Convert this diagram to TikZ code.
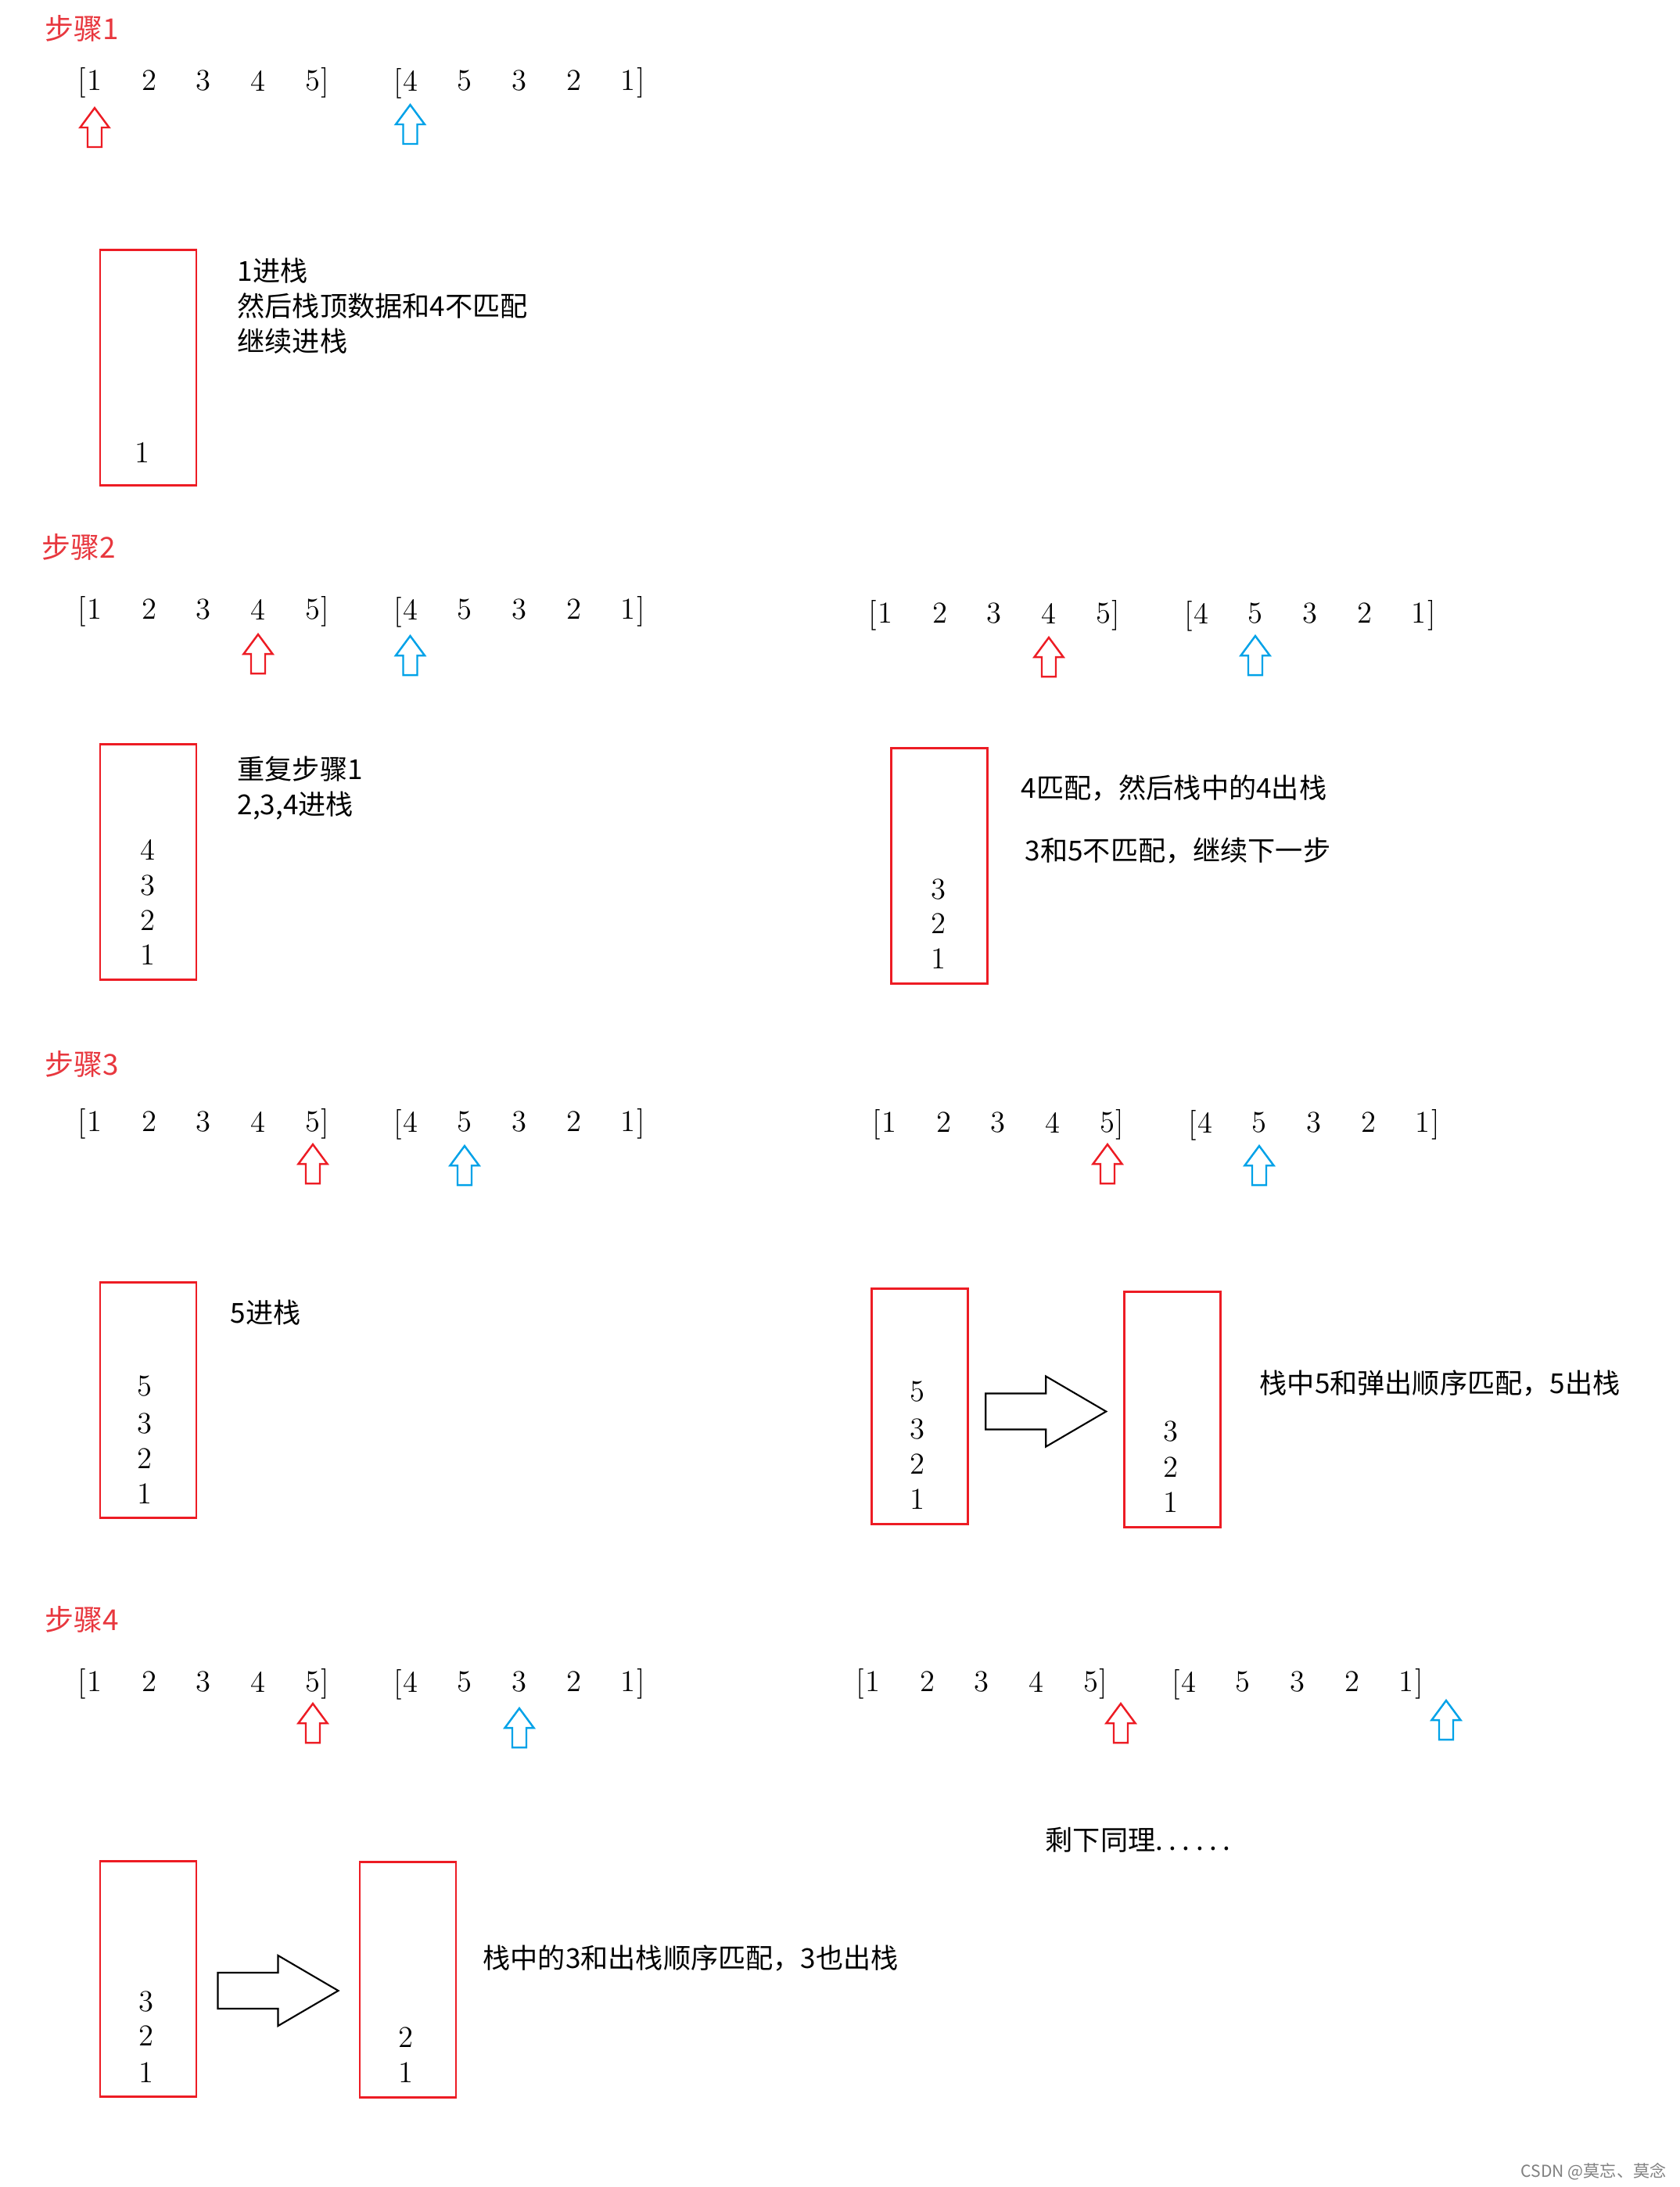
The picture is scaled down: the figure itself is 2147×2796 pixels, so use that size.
\documentclass[tikz,border=0pt]{standalone}
\usepackage{fontspec}
\newfontfamily\cjk{Noto Sans CJK SC}
\usetikzlibrary{positioning,calc}
\definecolor{boxred}{HTML}{ED1C24}
\definecolor{ptrblue}{HTML}{00A2E8}
\definecolor{steplbl}{HTML}{E8373E}
\begin{document}
\begin{tikzpicture}[x=0.1mm,y=-0.1mm,
	num/.style={inner sep=0pt,font=\fontsize{11}{13}\selectfont},
	stackbox/.style={draw=boxred,line width=0.85pt,minimum width=12.3mm,minimum height=30.1mm,inner sep=0pt},
	note/.style={inner sep=0pt,anchor=west,align=left,font=\cjk\fontsize{10}{12.8}\selectfont},
	steptitle/.style={inner sep=0pt,anchor=west,text=steplbl,font=\cjk\fontsize{10.5}{12}\selectfont},
	uparrow/.pic={\draw[line width=0.7pt] (0,0) -- (18.5,25) -- (9,25) -- (9,50) -- (-9,50) -- (-9,25) -- (-18.5,25) -- cycle;},
	movearrow/.pic={\draw[line width=0.6pt] (-77,-23) -- (0,-23) -- (0,-45) -- (77,0) -- (0,45) -- (0,23) -- (-77,23) -- cycle;}]
	\path[fill=white,use as bounding box] (0,0) rectangle (2147,2796);
	% step titles
	\node[steptitle] (st1) at (57,36) {步骤1};
	\node[steptitle] (st2) at (53,699) {步骤2};
	\node[steptitle] (st3) at (57,1360) {步骤3};
	\node[steptitle] (st4) at (57,2070) {步骤4};
	% push order and pop order
	\foreach \r/\x/\y in {a/121/103, b/121/779, c/1132/784, d/121/1434, e/1137/1435, f/121/2150, g/1116/2150}
	{
		\foreach \v [count=\i] in {1,2,3,4,5}
			\node[num] (p\r\i) at (\x+69.7*\i-69.7,\y) {\v};
		\foreach \v [count=\i] in {4,5,3,2,1}
			\node[num] (q\r\i) at (\x+403.5+69.7*\i-69.7,\y) {\v};
		\node[num,anchor=base east] (lp\r) at (p\r1.base west) {[};
		\node[num,anchor=base west] (rp\r) at (p\r5.base east) {]};
		\node[num,anchor=base east] (lq\r) at (q\r1.base west) {[};
		\node[num,anchor=base west] (rq\r) at (q\r5.base east) {]};
	}
	% pointers
	\pic[boxred] at (121,138) {uparrow};
	\pic[ptrblue] at (524.5,134) {uparrow};
	\pic[boxred] at (330,811) {uparrow};
	\pic[ptrblue] at (524.5,813) {uparrow};
	\pic[boxred] at (1341,815) {uparrow};
	\pic[ptrblue] at (1605,813) {uparrow};
	\pic[boxred] at (400,1463) {uparrow};
	\pic[ptrblue] at (594,1465) {uparrow};
	\pic[boxred] at (1416,1463) {uparrow};
	\pic[ptrblue] at (1610,1465) {uparrow};
	\pic[boxred] at (400,2178) {uparrow};
	\pic[ptrblue] at (664,2184) {uparrow};
	\pic[boxred] at (1433,2178) {uparrow};
	\pic[ptrblue] at (1849,2174) {uparrow};
	% stacks
	\node[stackbox] (s1) at (189.5,469.5) {};
	\node[stackbox] (s2l) at (189.5,1101.5) {};
	\node[stackbox] (s2r) at (1200.5,1106.5) {};
	\node[stackbox] (s3l) at (189.5,1789.5) {};
	\node[stackbox] (s3a) at (1175.5,1797.5) {};
	\node[stackbox] (s3b) at (1499,1801.5) {};
	\node[stackbox] (s4a) at (189.5,2529.5) {};
	\node[stackbox] (s4b) at (521.5,2530.5) {};
	\node[num] (s1-1) at (182,579) {1};
	\foreach \v/\yy in {4/1086,3/1132,2/1177,1/1221}
		\node[num] (s2l-\v) at (189,\yy) {\v};
	\foreach \v/\yy in {3/1137,2/1181,1/1226}
		\node[num] (s2r-\v) at (1200,\yy) {\v};
	\foreach \v/\yy in {5/1772,3/1820,2/1865,1/1910}
		\node[num] (s3l-\v) at (185,\yy) {\v};
	\foreach \v/\yy in {5/1779,3/1827,2/1872,1/1917}
		\node[num] (s3a-\v) at (1173,\yy) {\v};
	\foreach \v/\yy in {3/1830,2/1876,1/1921}
		\node[num] (s3b-\v) at (1497,\yy) {\v};
	\foreach \v/\yy in {3/2559,2/2603,1/2650}
		\node[num] (s4a-\v) at (187,\yy) {\v};
	\foreach \v/\yy in {2/2605,1/2650}
		\node[num] (s4b-\v) at (519,\yy) {\v};
	\pic at ($(s3a.east)!0.5!(s3b.west)+(0,5)$) {movearrow};
	\pic at ($(s4a.east)!0.5!(s4b.west)+(0,15)$) {movearrow};
	% notes
	\node[note] (t1) at (303,391) {1进栈\\然后栈顶数据和4不匹配\\继续进栈};
	\node[note] (t2l) at (303,1008) {重复步骤1\\2,3,4进栈};
	\node[note] (t2r) at (1305,1007) {4匹配，然后栈中的4出栈};
	\node[note] (t2r2) at (1310,1088) {3和5不匹配，继续下一步};
	\node[note] (t3l) at (294,1678) {5进栈};
	\node[note] (t3r) at (1610,1769) {栈中5和弹出顺序匹配，5出栈};
	\node[note] (t4l) at (617,2503) {栈中的3和出栈顺序匹配，3也出栈};
	\node[note] (t4r) at (1336,2352) {剩下同理.\kern0.75mm.\kern0.75mm.\kern0.75mm.\kern0.75mm.\kern0.75mm.};
	\node[anchor=east,inner sep=0pt,text=gray,font=\cjk\fontsize{6}{7}\selectfont] (wm) at (2131,2776) {CSDN @莫忘、莫念};
\end{tikzpicture}
\end{document}
